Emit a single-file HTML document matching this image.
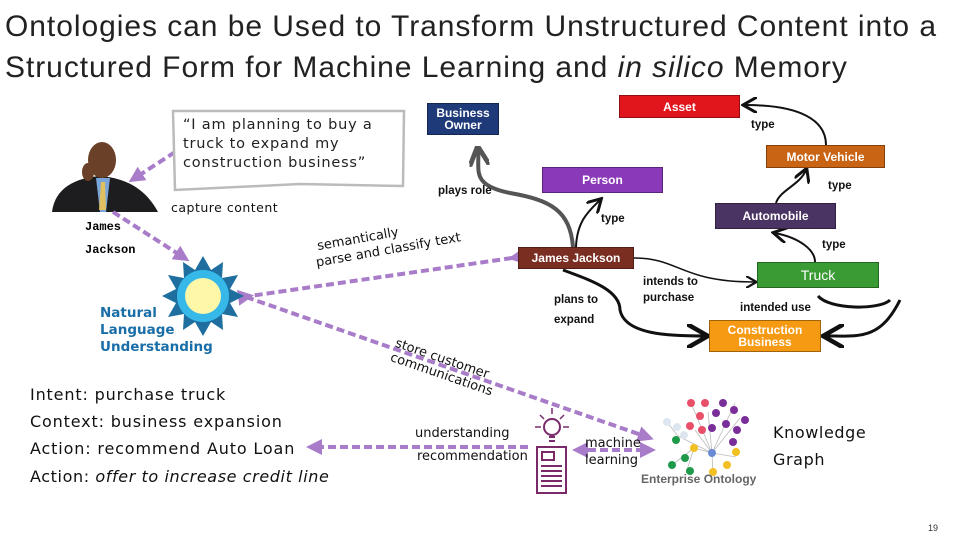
<!DOCTYPE html>
<html><head><meta charset="utf-8"><style>
body{margin:0;width:960px;height:540px;background:#fff;position:relative;overflow:hidden;font-family:"Liberation Sans",sans-serif}
.a{position:absolute;white-space:nowrap}
.box{position:absolute;color:#fff;font-weight:bold;font-size:12px;text-align:center;display:flex;align-items:center;justify-content:center;line-height:12px;border:1px solid rgba(0,0,0,.35);box-sizing:border-box}
.lb{position:absolute;font-weight:bold;font-size:11.5px;color:#111;white-space:nowrap}
.v{font-family:"DejaVu Sans",sans-serif}
.bl{font-size:16px;letter-spacing:0.85px;color:#111}
</style></head><body>
<div class="a" style="left:5px;top:6px;font-size:30px;letter-spacing:0.95px;color:#222;line-height:41px">Ontologies can be Used to Transform Unstructured Content into a<br>Structured Form for Machine Learning and <i>in silico</i> Memory</div>

<svg class="a" style="left:0;top:0" width="960" height="540">
<defs>
<marker id="pa" markerWidth="4" markerHeight="4" refX="3" refY="2" orient="auto"><path d="M0,0L4,2L0,4z" fill="#a87cc8"/></marker>
<marker id="pb" markerWidth="4" markerHeight="4" refX="1" refY="2" orient="auto"><path d="M4,0L0,2L4,4z" fill="#a87cc8"/></marker>
<marker id="ka" markerWidth="8" markerHeight="8" refX="6" refY="4" orient="auto"><path d="M0,0L7,4L0,8" fill="none" stroke="#111" stroke-width="1.5"/></marker>
<marker id="kg" markerWidth="5" markerHeight="5" refX="4" refY="2.5" orient="auto"><path d="M0,0L5,2.5L0,5" fill="none" stroke="#555" stroke-width="1.2"/></marker>
</defs>
<rect x="50" y="140" width="108" height="72" fill="#fff"/>
<path d="M52,212 C55,188 75,178 100,176 C125,178 145,188 158,212Z" fill="#1d1d1f"/>
<path d="M96,178 L110,178 L106,212 L100,212Z" fill="#7aa5d8"/>
<path d="M101,182 L105,182 L106,210 L99,210Z" fill="#e0c060"/>
<ellipse cx="102" cy="160" rx="14" ry="18" fill="#6b4028"/>
<ellipse cx="88" cy="172" rx="6" ry="9" fill="#6b4028"/>
<g stroke="#a87cc8" stroke-width="4" stroke-dasharray="8,4" fill="none">
<line x1="175" y1="152" x2="132" y2="180" marker-end="url(#pa)"/>
<line x1="113" y1="212" x2="186" y2="259" marker-end="url(#pa)"/>
<line x1="512" y1="258" x2="250" y2="296" marker-end="url(#pb)" marker-start="url(#pa)"/>
<line x1="246" y1="297" x2="650" y2="438" marker-end="url(#pa)"/>
<line x1="528" y1="447" x2="310" y2="447" marker-end="url(#pa)"/>
<line x1="576" y1="450" x2="652" y2="450" marker-end="url(#pa)" marker-start="url(#pb)"/>
</g>
<g fill="none" stroke="#111" stroke-width="2.5">
<path d="M576,247 C577,220 590,210 600,200" stroke-width="2" marker-end="url(#ka)"/>
<path d="M634,258 C680,258 680,282 755,282" stroke-width="1.5" marker-end="url(#ka)"/>
<path d="M563,270 C590,280 620,290 620,310 C625,335 670,336 705,336" stroke-width="3" marker-end="url(#ka)"/>
<path d="M815,262 C815,250 800,238 775,233" stroke-width="2" marker-end="url(#ka)"/>
<path d="M776,203 C780,190 800,185 806,170" stroke-width="2" marker-end="url(#ka)"/>
<path d="M826,145 C826,120 800,105 745,105" stroke-width="2" marker-end="url(#ka)"/>
<path d="M818,296 C830,310 880,310 890,300 M900,300 C880,340 860,336 826,336" stroke-width="3" marker-end="url(#ka)"/>
</g>
<path d="M573,247 C570,210 550,200 510,193 C470,185 480,170 478,150" fill="none" stroke="#555" stroke-width="4" marker-end="url(#kg)"/>
<path d="M173,111 L404,111 L403,186 L300,184 L175,190 Z" fill="#fff" stroke="#bbb" stroke-width="2.5"/>
<polygon fill="#1e6fa0" points="
203,256 211,270 223,262 222,278 238,275 230,289 244,296 230,303 238,317 222,314 223,330 211,322 203,336 195,322 183,330 184,314 168,317 176,303 162,296 176,289 168,275 184,278 183,262 195,270"/>
<circle cx="203" cy="296" r="26" fill="#36b8e8"/>
<circle cx="203" cy="296" r="18" fill="#fff7a8"/>
<g stroke="#7a2a6a" stroke-width="2" fill="#fff">
<rect x="537" y="447" width="29" height="46"/>
<rect x="542" y="452" width="12" height="8"/>
<line x1="541" y1="466" x2="562" y2="466"/><line x1="541" y1="471" x2="562" y2="471"/><line x1="541" y1="476" x2="562" y2="476"/><line x1="541" y1="481" x2="562" y2="481"/><line x1="541" y1="486" x2="562" y2="486"/>
<circle cx="552" cy="427" r="8"/>
<line x1="549" y1="437" x2="555" y2="437"/><line x1="549" y1="441" x2="555" y2="441"/>
</g>
<g stroke="#7a2a6a" stroke-width="1.5">
<line x1="552" y1="408" x2="552" y2="414"/><line x1="540" y1="415" x2="544" y2="419"/><line x1="564" y1="415" x2="560" y2="419"/><line x1="535" y1="427" x2="541" y2="427"/><line x1="563" y1="427" x2="569" y2="427"/>
</g>
<g stroke="#bbb" stroke-width="0.8">
<line x1="712" y1="453" x2="691" y2="403"/><line x1="712" y1="453" x2="708" y2="412"/><line x1="712" y1="453" x2="735" y2="403"/><line x1="712" y1="453" x2="740" y2="418"/><line x1="712" y1="453" x2="695" y2="430"/><line x1="712" y1="453" x2="678" y2="436"/><line x1="712" y1="453" x2="736" y2="457"/><line x1="712" y1="453" x2="713" y2="475"/><line x1="712" y1="453" x2="694" y2="448"/><line x1="694" y1="448" x2="672" y2="465"/><line x1="694" y1="448" x2="686" y2="473"/><line x1="678" y1="436" x2="667" y2="422"/>
</g>
<g>
<circle cx="691" cy="403" r="4" fill="#e8506a"/><circle cx="705" cy="403" r="4" fill="#e8506a"/><circle cx="700" cy="416" r="4" fill="#e8506a"/><circle cx="690" cy="426" r="4" fill="#e8506a"/><circle cx="702" cy="430" r="4" fill="#e8506a"/>
<circle cx="723" cy="403" r="4" fill="#7a2e9a"/><circle cx="734" cy="410" r="4" fill="#7a2e9a"/><circle cx="716" cy="413" r="4" fill="#7a2e9a"/><circle cx="745" cy="420" r="4" fill="#7a2e9a"/><circle cx="726" cy="424" r="4" fill="#7a2e9a"/><circle cx="737" cy="430" r="4" fill="#7a2e9a"/><circle cx="733" cy="442" r="4" fill="#7a2e9a"/><circle cx="712" cy="428" r="4" fill="#7a2e9a"/>
<circle cx="667" cy="422" r="4" fill="#dde6f0"/><circle cx="677" cy="427" r="4" fill="#dde6f0"/><circle cx="684" cy="435" r="4" fill="#dde6f0"/>
<circle cx="676" cy="440" r="4" fill="#1e9a4a"/><circle cx="672" cy="465" r="4" fill="#1e9a4a"/><circle cx="685" cy="458" r="4" fill="#1e9a4a"/><circle cx="690" cy="471" r="4" fill="#1e9a4a"/>
<circle cx="694" cy="448" r="4" fill="#f2c020"/><circle cx="736" cy="452" r="4" fill="#f2c020"/><circle cx="727" cy="465" r="4" fill="#f2c020"/><circle cx="713" cy="472" r="4" fill="#f2c020"/>
<circle cx="712" cy="453" r="4" fill="#6a8ad8"/>
</g>
</svg>

<div class="a v" style="left:183px;top:116px;font-size:14.5px;letter-spacing:0.8px;line-height:19px;color:#222">“I am planning to buy a<br>truck to expand my<br>construction business”</div>
<div class="a v" style="left:171px;top:200px;font-size:12.5px;letter-spacing:0.5px;color:#111">capture content</div>
<div class="a" style="left:85px;top:220px;font-size:12px;font-weight:bold;font-family:'Liberation Mono',monospace">James</div>
<div class="a" style="left:85px;top:243px;font-size:12px;font-weight:bold;font-family:'Liberation Mono',monospace">Jackson</div>
<div class="a v" style="left:100px;top:305px;font-size:13.5px;line-height:17px;font-weight:bold;color:#1a6ea8">Natural<br>Language<br>Understanding</div>
<div class="a v" style="left:312px;top:240px;font-size:13px;line-height:16px;color:#111;transform:rotate(-10deg);transform-origin:0 0">&nbsp;semantically<br>parse and classify text</div>
<div class="a v" style="left:398px;top:336px;font-size:13px;line-height:15px;color:#111;transform:rotate(19deg);transform-origin:0 0">store customer<br>communications</div>

<div class="a v bl" style="left:30px;top:385px">Intent: purchase truck</div>
<div class="a v bl" style="left:30px;top:412px">Context: business expansion</div>
<div class="a v bl" style="left:30px;top:439px">Action: recommend Auto Loan</div>
<div class="a v bl" style="left:30px;top:467px;letter-spacing:0.6px">Action: <i>offer to increase credit line</i></div>
<div class="a v" style="left:415px;top:426px;font-size:13px;color:#111">understanding</div>
<div class="a v" style="left:417px;top:449px;font-size:13px;color:#111">recommendation</div>
<div class="a v" style="left:585px;top:435px;font-size:13px;line-height:17px;color:#111">machine<br>learning</div>
<div class="a" style="left:641px;top:472px;font-size:12px;font-weight:bold;color:#666">Enterprise Ontology</div>
<div class="a v" style="left:773px;top:419px;font-size:16px;letter-spacing:0.6px;line-height:27px;color:#111">Knowledge<br>Graph</div>
<div class="a" style="left:928px;top:523px;font-size:9px;color:#333">19</div>

<div class="box" style="left:427px;top:103px;width:72px;height:32px;background:#1f3a78">Business<br>Owner</div>
<div class="box" style="left:619px;top:95px;width:121px;height:23px;background:#e0161c">Asset</div>
<div class="box" style="left:766px;top:145px;width:119px;height:23px;background:#c86414">Motor Vehicle</div>
<div class="box" style="left:542px;top:167px;width:121px;height:26px;background:#8a3ab9">Person</div>
<div class="box" style="left:715px;top:203px;width:121px;height:26px;background:#4a3463">Automobile</div>
<div class="box" style="left:518px;top:247px;width:116px;height:22px;background:#7a2e22">James Jackson</div>
<div class="box" style="left:757px;top:262px;width:122px;height:26px;background:#3a9a33;font-weight:normal;font-size:14px">Truck</div>
<div class="box" style="left:709px;top:320px;width:112px;height:32px;background:#f59a12">Construction<br>Business</div>

<div class="lb" style="left:751px;top:119px">type</div>
<div class="lb" style="left:438px;top:185px">plays role</div>
<div class="lb" style="left:601px;top:213px">type</div>
<div class="lb" style="left:828px;top:180px">type</div>
<div class="lb" style="left:822px;top:239px">type</div>
<div class="lb" style="left:643px;top:274px;line-height:16px">intends to<br>purchase</div>
<div class="lb" style="left:554px;top:290px;line-height:20px">plans to<br>expand</div>
<div class="lb" style="left:740px;top:302px">intended use</div>
</body></html>
